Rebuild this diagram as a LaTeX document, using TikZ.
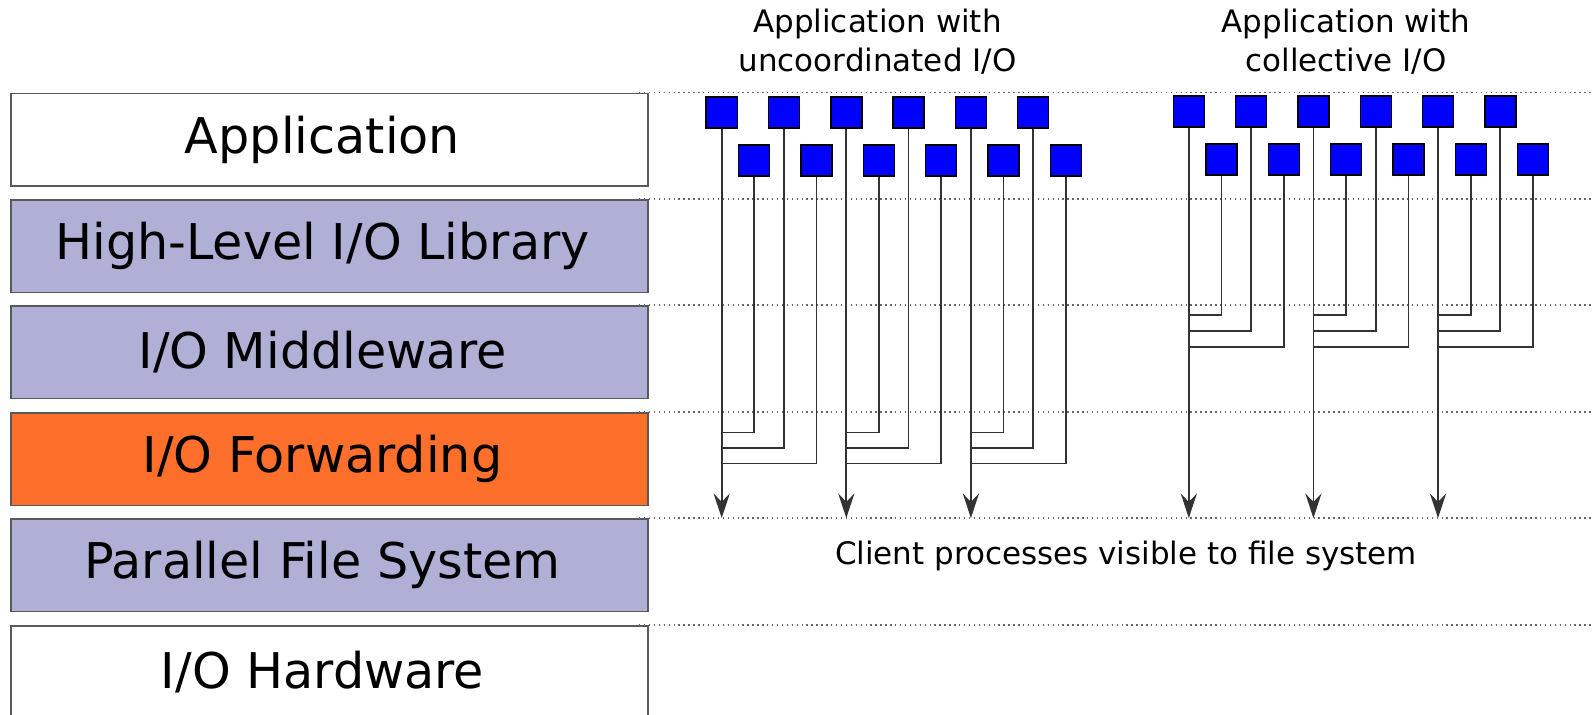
\documentclass[tikz,border=0pt]{standalone}
\usepackage{fontspec}
\setmainfont{DejaVu Sans}
\usetikzlibrary{arrows.meta}

\definecolor{libfill}{HTML}{B0AFD6}
\definecolor{fwdfill}{HTML}{FF6F2C}

\tikzset{
  layer/.style={draw=black!65,line width=0.5pt,minimum width=6.37cm,minimum height=0.925cm,inner sep=0pt,font=\fontsize{14}{17}\selectfont,execute at begin node=\hspace*{-0.14cm}},
  proc/.style={draw=black,fill=blue,minimum size=0.31cm,inner sep=0pt,line width=0.4pt},
  sep/.style={black!60,densely dotted,line width=0.4pt},
  wire/.style={black!80,line width=0.5pt},
  tip/.style={-{Stealth[length=7pt,width=4.6pt,inset=2.4pt]}},
  note/.style={align=center,font=\fontsize{8.8}{11}\selectfont}
}

\begin{document}
\begin{tikzpicture}[x=0.01cm,y=-0.01cm]
\useasboundingbox (0,0) rectangle (1594,714);
\coordinate (rim) at (1594,0);

\node[layer,fill=white]   (app) at (329.5,139.75) {Application};
\node[layer,fill=libfill] (hl)  at (329.5,246.25) {High-Level I/O Library};
\node[layer,fill=libfill] (mw)  at (329.5,352.25) {I/O Middleware};
\node[layer,fill=fwdfill] (fwd) at (329.5,459.25) {I/O Forwarding};
\node[layer,fill=libfill] (pfs) at (329.5,565.25) {Parallel File System};
\node[layer,fill=white]   (hw)  at (329.5,672.25) {I/O Hardware};

\foreach \l in {app,hl,mw,fwd,pfs,hw}
  \draw[sep] ([xshift=-0.1cm]\l.north east) -- (\l.north east -| rim);

\node[note] (utitle) at (877.5,41.5) {Application with\\uncoordinated I/O};
\node[note] (ctitle) at (1346,41.5) {Application with\\collective I/O};
\node[note] (client) at (1126,556) {Client processes visible to file system};

% client processes, two rows per application
\foreach \k in {1,...,6} {
  \node[proc] (uT\k) at ({721.7+62.3*(\k-1)},112.4) {};
  \node[proc] (uB\k) at ({754.2+62.3*(\k-1)},160.4) {};
  \node[proc] (cT\k) at ({1188.8+62.3*(\k-1)},111.5) {};
  \node[proc] (cB\k) at ({1221.5+62.3*(\k-1)},159.5) {};
}

\foreach \g in {1,3,5} {
  \pgfmathtruncatemacro\h{\g+1}
  \draw[wire,tip] (uT\g.south) -- (uT\g.south |- pfs.north);
  \draw[wire] (uB\g.south) |- (uT\g.south |- 0,432.5);
  \draw[wire] (uT\h.south) |- (uT\g.south |- 0,448);
  \draw[wire] (uB\h.south) |- (uT\g.south |- 0,463.5);
  \draw[wire,tip] (cT\g.south) -- (cT\g.south |- pfs.north);
  \draw[wire] (cB\g.south) |- (cT\g.south |- 0,315);
  \draw[wire] (cT\h.south) |- (cT\g.south |- 0,331);
  \draw[wire] (cB\h.south) |- (cT\g.south |- 0,346.7);
}
\end{tikzpicture}
\end{document}
